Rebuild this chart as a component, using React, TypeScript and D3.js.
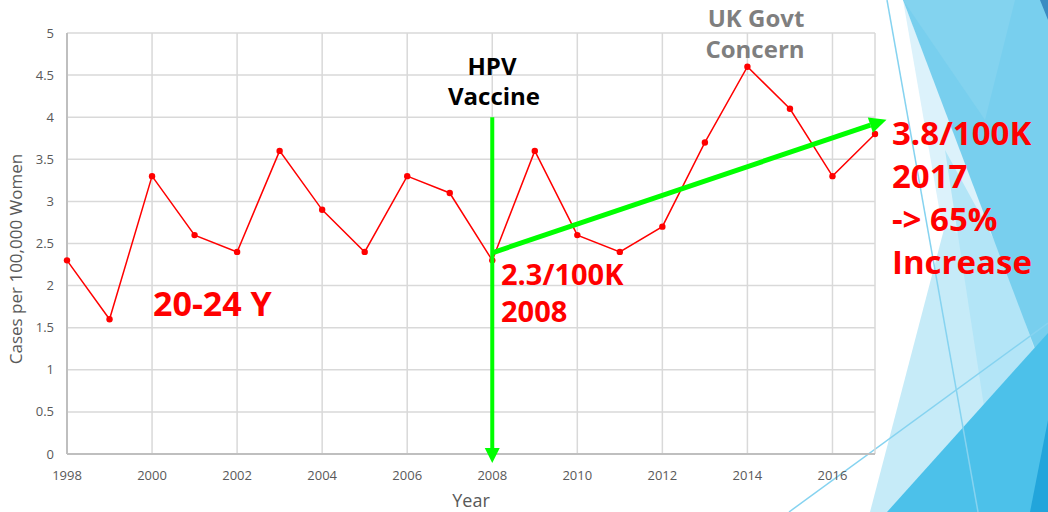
import React from 'react';
import * as d3 from 'd3';

const years = [1998, 1999, 2000, 2001, 2002, 2003, 2004, 2005, 2006, 2007, 2008, 2009, 2010, 2011, 2012, 2013, 2014, 2015, 2016, 2017];
const cases = [2.3, 1.6, 3.3, 2.6, 2.4, 3.6, 2.9, 2.4, 3.3, 3.1, 2.3, 3.6, 2.6, 2.4, 2.7, 3.7, 4.6, 4.1, 3.3, 3.8];
const xTicks = [1998, 2000, 2002, 2004, 2006, 2008, 2010, 2012, 2014, 2016];
const yTicks = [0, 0.5, 1, 1.5, 2, 2.5, 3, 3.5, 4, 4.5, 5];

// trend arrow endpoints (year, value)
const vaccineYear = 2008;
const trendStart: [number, number] = [2008, 2.39];
const trendEnd: [number, number] = [2017.27, 3.97];

const W = 1048;
const H = 512;
const FONT = '"Open Sans", "Noto Sans", sans-serif';

const x = d3.scaleLinear().domain([1998, 2017]).range([67, 875]);
const y = d3.scaleLinear().domain([0, 5]).range([454, 33]);

const arrowHead = (x1: number, y1: number, x2: number, y2: number, len: number, half: number) => {
  const a = Math.atan2(y2 - y1, x2 - x1);
  const bx = x2 - len * Math.cos(a);
  const by = y2 - len * Math.sin(a);
  const px = -Math.sin(a) * half;
  const py = Math.cos(a) * half;
  return {
    base: [bx, by],
    points: `${x2},${y2} ${bx + px},${by + py} ${bx - px},${by - py}`,
  };
};

const App: React.FC = () => {
  const line = d3.line<number>()
    .x((_, i) => x(years[i]))
    .y(d => y(d));

  const vx = x(vaccineYear);
  const vTop = y(4);
  const vTip = 463;
  const vHead = arrowHead(vx, vTop, vx, vTip, 15, 7.5);

  const sx1 = x(trendStart[0]);
  const sy1 = y(trendStart[1]);
  const sx2 = x(trendEnd[0]);
  const sy2 = y(trendEnd[1]);
  const sHead = arrowHead(sx1, sy1, sx2, sy2, 17, 8);

  const gridColor = '#d9d9d9';
  const tickColor = '#595959';

  return (
    <div style={{ position: 'fixed', left: 0, top: 0 }}>
      <svg width={W} height={H} style={{ display: 'block', background: '#fff' }}>
        {/* slide background facets */}
        <g>
          <polygon points="870,512 1004,0 1048,0 1048,512" fill="#c6ebf8" />
          <polygon points="903,0 942,225 1003,258" fill="#dcf2fb" />
          <polygon points="945,150 1003,256 1048,390 1048,512 1000,512" fill="#b3e5f7" />
          <polygon points="903,0 1048,0 1048,383" fill="#78cfee" />
          <polygon points="903,0 1015,0 985,120" fill="#83d3ef" />
          <polygon points="887,512 1048,333 1048,512" fill="#4cc1ea" />
          <polygon points="1030,512 1048,420 1048,512" fill="#22a5db" />
          <polygon points="1040,0 1048,0 1048,20" fill="#3a8cc2" />
          <line x1={887} y1={0} x2={978} y2={512} stroke="#86d3f0" strokeWidth={1.5} />
          <line x1={789} y1={512} x2={1048} y2={323} stroke="#86d3f0" strokeWidth={1.5} />
        </g>

        {/* grid */}
        <g>
          {yTicks.map(t => (
            <line key={`h${t}`} x1={x(1998)} x2={x(2017)} y1={y(t)} y2={y(t)} stroke={gridColor} strokeWidth={1.5} />
          ))}
          {xTicks.filter(t => t > 1998).concat([2017]).map(t => (
            <line key={`v${t}`} x1={x(t)} x2={x(t)} y1={y(0)} y2={y(5)} stroke={gridColor} strokeWidth={1.5} />
          ))}
          <line x1={x(1998)} x2={x(1998)} y1={y(0)} y2={y(5)} stroke="#bfbfbf" strokeWidth={2} />
          <line x1={x(1998)} x2={x(2017)} y1={y(0)} y2={y(0)} stroke="#bfbfbf" strokeWidth={2} />
        </g>

        {/* tick labels */}
        <g fontFamily={FONT} fontSize={13} fill={tickColor}>
          {yTicks.map(t => (
            <text key={`yl${t}`} x={54} y={y(t)} dy="0.35em" textAnchor="end">{t}</text>
          ))}
          {xTicks.map(t => (
            <text key={`xl${t}`} x={x(t)} y={480} textAnchor="middle">{t}</text>
          ))}
        </g>

        {/* axis titles */}
        <text x={471} y={507} textAnchor="middle" fontFamily={FONT} fontSize={18} fill={tickColor}>Year</text>
        <text transform="translate(22,259) rotate(-90)" textAnchor="middle" fontFamily={FONT} fontSize={17} fill={tickColor}>
          Cases per 100,000 Women
        </text>

        {/* data */}
        <path d={line(cases) || ''} fill="none" stroke="#ff0000" strokeWidth={1.5} />
        {cases.map((d, i) => (
          <circle key={years[i]} cx={x(years[i])} cy={y(d)} r={3.2} fill="#ff0000" />
        ))}

        {/* green arrows */}
        <line x1={vx} y1={vTop} x2={vHead.base[0]} y2={vHead.base[1]} stroke="#00ff00" strokeWidth={4} />
        <polygon points={vHead.points} fill="#00ff00" />
        <line x1={sx1} y1={sy1} x2={sHead.base[0]} y2={sHead.base[1]} stroke="#00ff00" strokeWidth={5} />
        <polygon points={sHead.points} fill="#00ff00" />

        {/* annotations */}
        <g fontFamily={FONT} fontWeight="bold">
          <text x={492} y={75} textAnchor="middle" fontSize={24} fill="#000">HPV</text>
          <text x={494} y={105} textAnchor="middle" fontSize={24} fill="#000">Vaccine</text>
          <text x={756} y={27} textAnchor="middle" fontSize={24} fill="#7f7f7f">UK Govt</text>
          <text x={755} y={58} textAnchor="middle" fontSize={24} fill="#7f7f7f">Concern</text>
          <text x={153} y={316} fontSize={34} fill="#ff0000">20-24 Y</text>
          <text x={501} y={285} fontSize={29} fill="#ff0000">2.3/100K</text>
          <text x={501} y={322} fontSize={29} fill="#ff0000">2008</text>
          <text x={892} y={145} fontSize={33} fill="#ff0000">3.8/100K</text>
          <text x={892} y={188} fontSize={33} fill="#ff0000">2017</text>
          <text x={892} y={231} fontSize={33} fill="#ff0000">-&gt; 65%</text>
          <text x={892} y={274} fontSize={33} fill="#ff0000">Increase</text>
        </g>
      </svg>
    </div>
  );
};

export default App;
